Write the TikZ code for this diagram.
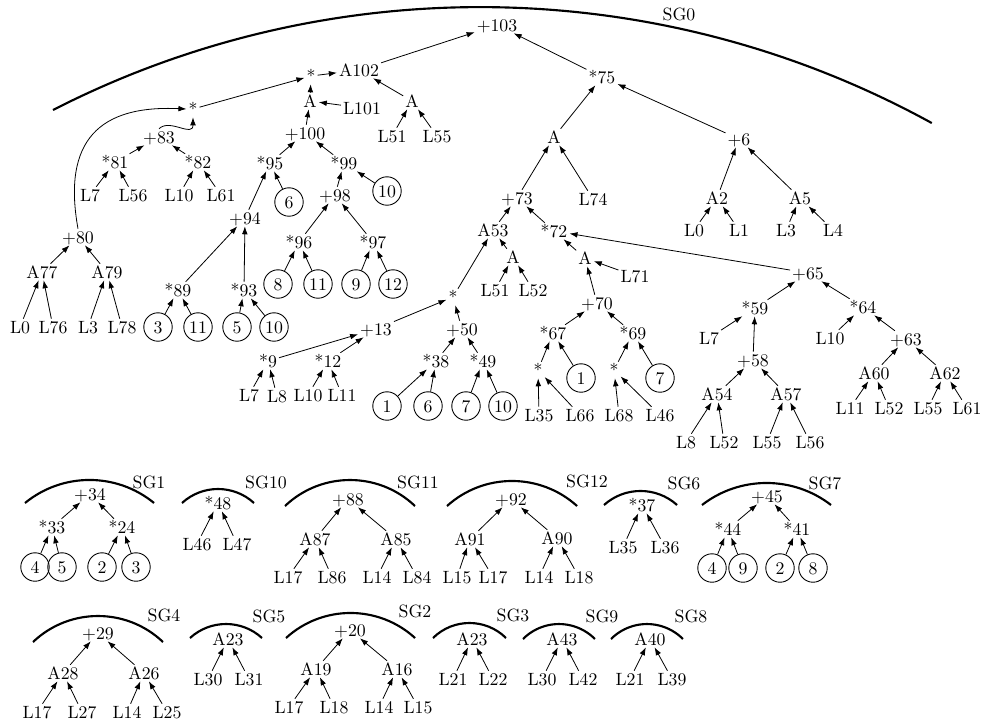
\documentclass[tikz,border=0pt]{standalone}
\usetikzlibrary{arrows.meta}
\begin{document}
\begin{tikzpicture}[x=0.5625pt,y=-0.5625pt,
  every node/.style={inner sep=1pt, text height=6.9pt, text depth=0pt},
  cn/.style={circle, draw, line width=0.5pt, minimum size=16pt, inner sep=0pt},
  arr/.style={-{Latex[length=4.5pt,width=3.2pt]}, line width=0.45pt},
  sgline/.style={line width=1.2pt}]
\useasboundingbox (0,0) rectangle (981,724);
% ---------------- SG0 ----------------
\draw[sgline] (53,110) arc[start angle=-117.1, end angle=-61.2, radius=937.6];
\node (sg0) at (679,14) {SG0};
\node (n103) at (497,25) {+103};
\node (s0) at (311,76) {*};
\node (a102) at (359,70) {A102};
\node (aA) at (310,101) {A};
\node (l101) at (362,108) {L101};
\node (aR) at (412,101) {A};
\node (l51a) at (392,136) {L51};
\node (l55a) at (437,136) {L55};
\node (s1) at (193,109) {*};
\node (p83) at (159,137) {+83};
\node (m81) at (115,162) {*81};
\node (m82) at (198,162) {*82};
\node (l7a) at (90,195) {L7};
\node (l56a) at (133,195) {L56};
\node (l10a) at (179,195) {L10};
\node (l61a) at (221,195) {L61};
\node (p100) at (305,133) {+100};
\node (m95) at (270,163) {*95};
\node (m99) at (344,163) {*99};
\node[cn] (c6a) at (289,202) {6};
\node[cn] (c10a) at (387,191) {10};
\node (p98) at (335,195) {+98};
\node (p94) at (245,218) {+94};
\node (m96) at (299,242) {*96};
\node (m97) at (373,242) {*97};
\node[cn] (c8) at (278,284) {8};
\node[cn] (c11a) at (318,284) {11};
\node[cn] (c9) at (356,284) {9};
\node[cn] (c12) at (393,284) {12};
\node (m89) at (178,290) {*89};
\node (m93) at (244,290) {*93};
\node[cn] (c3) at (158,327) {3};
\node[cn] (c11b) at (198,327) {11};
\node[cn] (c5) at (237,327) {5};
\node[cn] (c10b) at (274,327) {10};
\node (p80) at (78,237) {+80};
\node (a77) at (42,272) {A77};
\node (a79) at (107,272) {A79};
\node (l0a) at (20,327) {L0};
\node (l76) at (53,327) {L76};
\node (l3a) at (88,327) {L3};
\node (l78) at (122,327) {L78};
\node (m75) at (602,77) {*75};
\node (aB) at (554,137) {A};
\node (p6) at (739,139) {+6};
\node (p73) at (517,198) {+73};
\node (l74) at (593,199) {L74};
\node (a2) at (717,198) {A2};
\node (a5) at (800,198) {A5};
\node (l0b) at (694,230) {L0};
\node (l1) at (739,230) {L1};
\node (l3b) at (786,230) {L3};
\node (l4) at (833,230) {L4};
\node (a53) at (493,230) {A53};
\node (m72) at (554,231) {*72};
\node (aC) at (513,257) {A};
\node (l51b) at (495,290) {L51};
\node (l52a) at (533,290) {L52};
\node (s2) at (453,297) {*};
\node (p13) at (376,329) {+13};
\node (p50) at (462,329) {+50};
\node (m9) at (268,361) {*9};
\node (m12) at (328,361) {*12};
\node (m38) at (436,361) {*38};
\node (m49) at (483,361) {*49};
\node (l7b) at (249,395) {L7};
\node (l8a) at (277,396) {L8};
\node (l10b) at (308,395) {L10};
\node (l11a) at (342,395) {L11};
\node[cn] (c1a) at (387,406) {1};
\node[cn] (c6b) at (428,406) {6};
\node[cn] (c7a) at (466,406) {7};
\node[cn] (c10c) at (503,406) {10};
\node (aD) at (585,258) {A};
\node (l71) at (635,276) {L71};
\node (p65) at (808,273) {+65};
\node (p70) at (597,303) {+70};
\node (m67) at (553,333) {*67};
\node (m69) at (633,333) {*69};
\node (s3) at (538,370) {*};
\node[cn] (c1b) at (581,378) {1};
\node (s4) at (614,370) {*};
\node[cn] (c7b) at (660,378) {7};
\node (l35a) at (539,415) {L35};
\node (l66) at (580,415) {L66};
\node (l68) at (619,415) {L68};
\node (l46a) at (660,415) {L46};
\node (m59) at (755,308) {*59};
\node (m64) at (863,307) {*64};
\node (l7c) at (709,338) {L7};
\node (l10c) at (830,338) {L10};
\node (p58) at (753,360) {+58};
\node (p63) at (906,339) {+63};
\node (a54) at (717,394) {A54};
\node (a57) at (786,394) {A57};
\node (a60) at (874,373) {A60};
\node (a62) at (945,373) {A62};
\node (l11b) at (850,408) {L11};
\node (l52b) at (889,408) {L52};
\node (l55b) at (928,408) {L55};
\node (l61b) at (967,408) {L61};
\node (l8b) at (686,442) {L8};
\node (l52c) at (724,442) {L52};
\node (l55c) at (767,442) {L55};
\node (l56b) at (810,442) {L56};
\foreach \a/\b in {a102/n103, m75/n103, s0/a102, aA/s0, l101/aA, aR/a102, l51a/aR, l55a/aR,
  s1/s0, m81/p83, m82/p83, l7a/m81, l56a/m81, l10a/m82, l61a/m82, p100/aA, m95/p100, m99/p100,
  p94/m95, c6a/m95, p98/m99, c10a/m99, m96/p98, m97/p98, c8/m96, c11a/m96, c9/m97, c12/m97,
  m89/p94, m93/p94, c3/m89, c11b/m89, c5/m93, c10b/m93, a77/p80, a79/p80, l0a/a77, l76/a77,
  l3a/a79, l78/a79, aB/m75, p6/m75, p73/aB, l74/aB, a2/p6, a5/p6, l0b/a2, l1/a2, l3b/a5, l4/a5,
  a53/p73, m72/p73, s2/a53, aC/a53, l51b/aC, l52a/aC, p13/s2, p50/s2, m9/p13, m12/p13,
  l7b/m9, l8a/m9, l10b/m12, l11a/m12, m38/p50, m49/p50, c1a/m38, c6b/m38, c7a/m49, c10c/m49,
  aD/m72, p65/m72, l71/aD, p70/aD, m67/p70, m69/p70, s3/m67, c1b/m67, s4/m69, c7b/m69,
  l35a/s3, l66/s3, l68/s4, l46a/s4, m59/p65, m64/p65, l7c/m59, p58/m59, a54/p58, a57/p58,
  l8b/a54, l52c/a54, l55c/a57, l56b/a57, l10c/m64, p63/m64, a60/p63, a62/p63, l11b/a60,
  l52b/a60, l55b/a62, l61b/a62}
  \draw[arr] (\a) -- (\b);
\draw[arr] (p80.north) .. controls (62,140) and (100,105) .. (s1.west);
\draw[arr] (p83.north) .. controls (170,118) and (193,138) .. (s1.south);
% ---------------- row 2 ----------------
\draw[sgline] (25,503) arc[start angle=-129.3, end angle=-50.7, radius=101.9];
\node (sg1) at (149,482) {SG1};
\node (p34) at (90,494) {+34};
\node (m33) at (52,527) {*33};
\node (m24) at (122,527) {*24};
\node[cn] (c4a) at (35,567) {4};
\node[cn] (c5b) at (62,567) {5};
\node[cn] (c2a) at (102,567) {2};
\node[cn] (c3b) at (136,567) {3};
\draw[sgline] (182,503) arc[start angle=-132.5, end angle=-47.5, radius=53.3];
\node (sg10) at (266,482) {SG10};
\node (m48) at (218,503) {*48};
\node (l46b) at (197,544) {L46};
\node (l47) at (237,544) {L47};
\draw[sgline] (285,506) arc[start angle=-133.6, end angle=-46.4, radius=94.25];
\node (sg11) at (418,482) {SG11};
\node (p88) at (348,499) {+88};
\node (a87) at (315,539) {A87};
\node (a85) at (396,539) {A85};
\node (l17a) at (288,577) {L17};
\node (l86) at (332,577) {L86};
\node (l14a) at (377,577) {L14};
\node (l84) at (417,577) {L84};
\draw[sgline] (447,506) arc[start angle=-132.1, end angle=-47.9, radius=97];
\node (sg12) at (587,481) {SG12};
\node (p92) at (511,499) {+92};
\node (a91) at (470,539) {A91};
\node (a90) at (557,538) {A90};
\node (l15a) at (457,577) {L15};
\node (l17b) at (493,577) {L17};
\node (l14b) at (539,577) {L14};
\node (l18a) at (579,577) {L18};
\draw[sgline] (604,505) arc[start angle=-132, end angle=-48, radius=54.6];
\node (sg6) at (684,483) {SG6};
\node (m37) at (642,505) {*37};
\node (l35b) at (623,547) {L35};
\node (l36) at (665,547) {L36};
\draw[sgline] (702,505) arc[start angle=-127.7, end angle=-52.3, radius=105.5];
\node (sg7) at (825,483) {SG7};
\node (p45) at (767,496) {+45};
\node (m44) at (728,529) {*44};
\node (m41) at (797,529) {*41};
\node[cn] (c4b) at (712,568) {4};
\node[cn] (c9b) at (743,568) {9};
\node[cn] (c2b) at (780,568) {2};
\node[cn] (c8b) at (813,568) {8};
% ---------------- row 3 ----------------
\draw[sgline] (33,642) arc[start angle=-133.6, end angle=-46.4, radius=94.25];
\node (sg4) at (164,615) {SG4};
\node (p29) at (98,633) {+29};
\node (a28) at (63,673) {A28};
\node (a26) at (144,673) {A26};
\node (l17c) at (37,712) {L17};
\node (l27) at (82,712) {L27};
\node (l14c) at (127,712) {L14};
\node (l25) at (167,712) {L25};
\draw[sgline] (190,638) arc[start angle=-132.5, end angle=-47.5, radius=53.3];
\node (sg5) at (269,616) {SG5};
\node (a23a) at (228,639) {A23};
\node (l30a) at (208,679) {L30};
\node (l31) at (249,679) {L31};
\draw[sgline] (286,638) arc[start angle=-132.4, end angle=-47.6, radius=95.7];
\node (sg2) at (415,611) {SG2};
\node (p20) at (350,630) {+20};
\node (a19) at (316,669) {A19};
\node (a16) at (397,669) {A16};
\node (l17d) at (289,707) {L17};
\node (l18b) at (334,707) {L18};
\node (l14d) at (379,707) {L14};
\node (l15b) at (418,707) {L15};
\draw[sgline] (433,638) arc[start angle=-134.7, end angle=-45.3, radius=51.9];
\node (sg3) at (513,615) {SG3};
\node (a23b) at (472,639) {A23};
\node (l21a) at (453,679) {L21};
\node (l22) at (493,679) {L22};
\draw[sgline] (523,639) arc[start angle=-135.2, end angle=-44.8, radius=50.7];
\node (sg9) at (602,616) {SG9};
\node (a43) at (562,639) {A43};
\node (l30b) at (542,679) {L30};
\node (l42) at (583,679) {L42};
\draw[sgline] (611,639) arc[start angle=-135.2, end angle=-44.8, radius=50.7];
\node (sg8) at (691,616) {SG8};
\node (a40) at (650,639) {A40};
\node (l21b) at (630,679) {L21};
\node (l39) at (672,679) {L39};
\foreach \a/\b in {m33/p34, m24/p34, c4a/m33, c5b/m33, c2a/m24, c3b/m24, l46b/m48, l47/m48,
  a87/p88, a85/p88, l17a/a87, l86/a87, l14a/a85, l84/a85, a91/p92, a90/p92, l15a/a91, l17b/a91,
  l14b/a90, l18a/a90, l35b/m37, l36/m37, m44/p45, m41/p45, c4b/m44, c9b/m44, c2b/m41, c8b/m41,
  a28/p29, a26/p29, l17c/a28, l27/a28, l14c/a26, l25/a26, l30a/a23a, l31/a23a,
  a19/p20, a16/p20, l17d/a19, l18b/a19, l14d/a16, l15b/a16, l21a/a23b, l22/a23b,
  l30b/a43, l42/a43, l21b/a40, l39/a40}
  \draw[arr] (\a) -- (\b);
\end{tikzpicture}
\end{document}
